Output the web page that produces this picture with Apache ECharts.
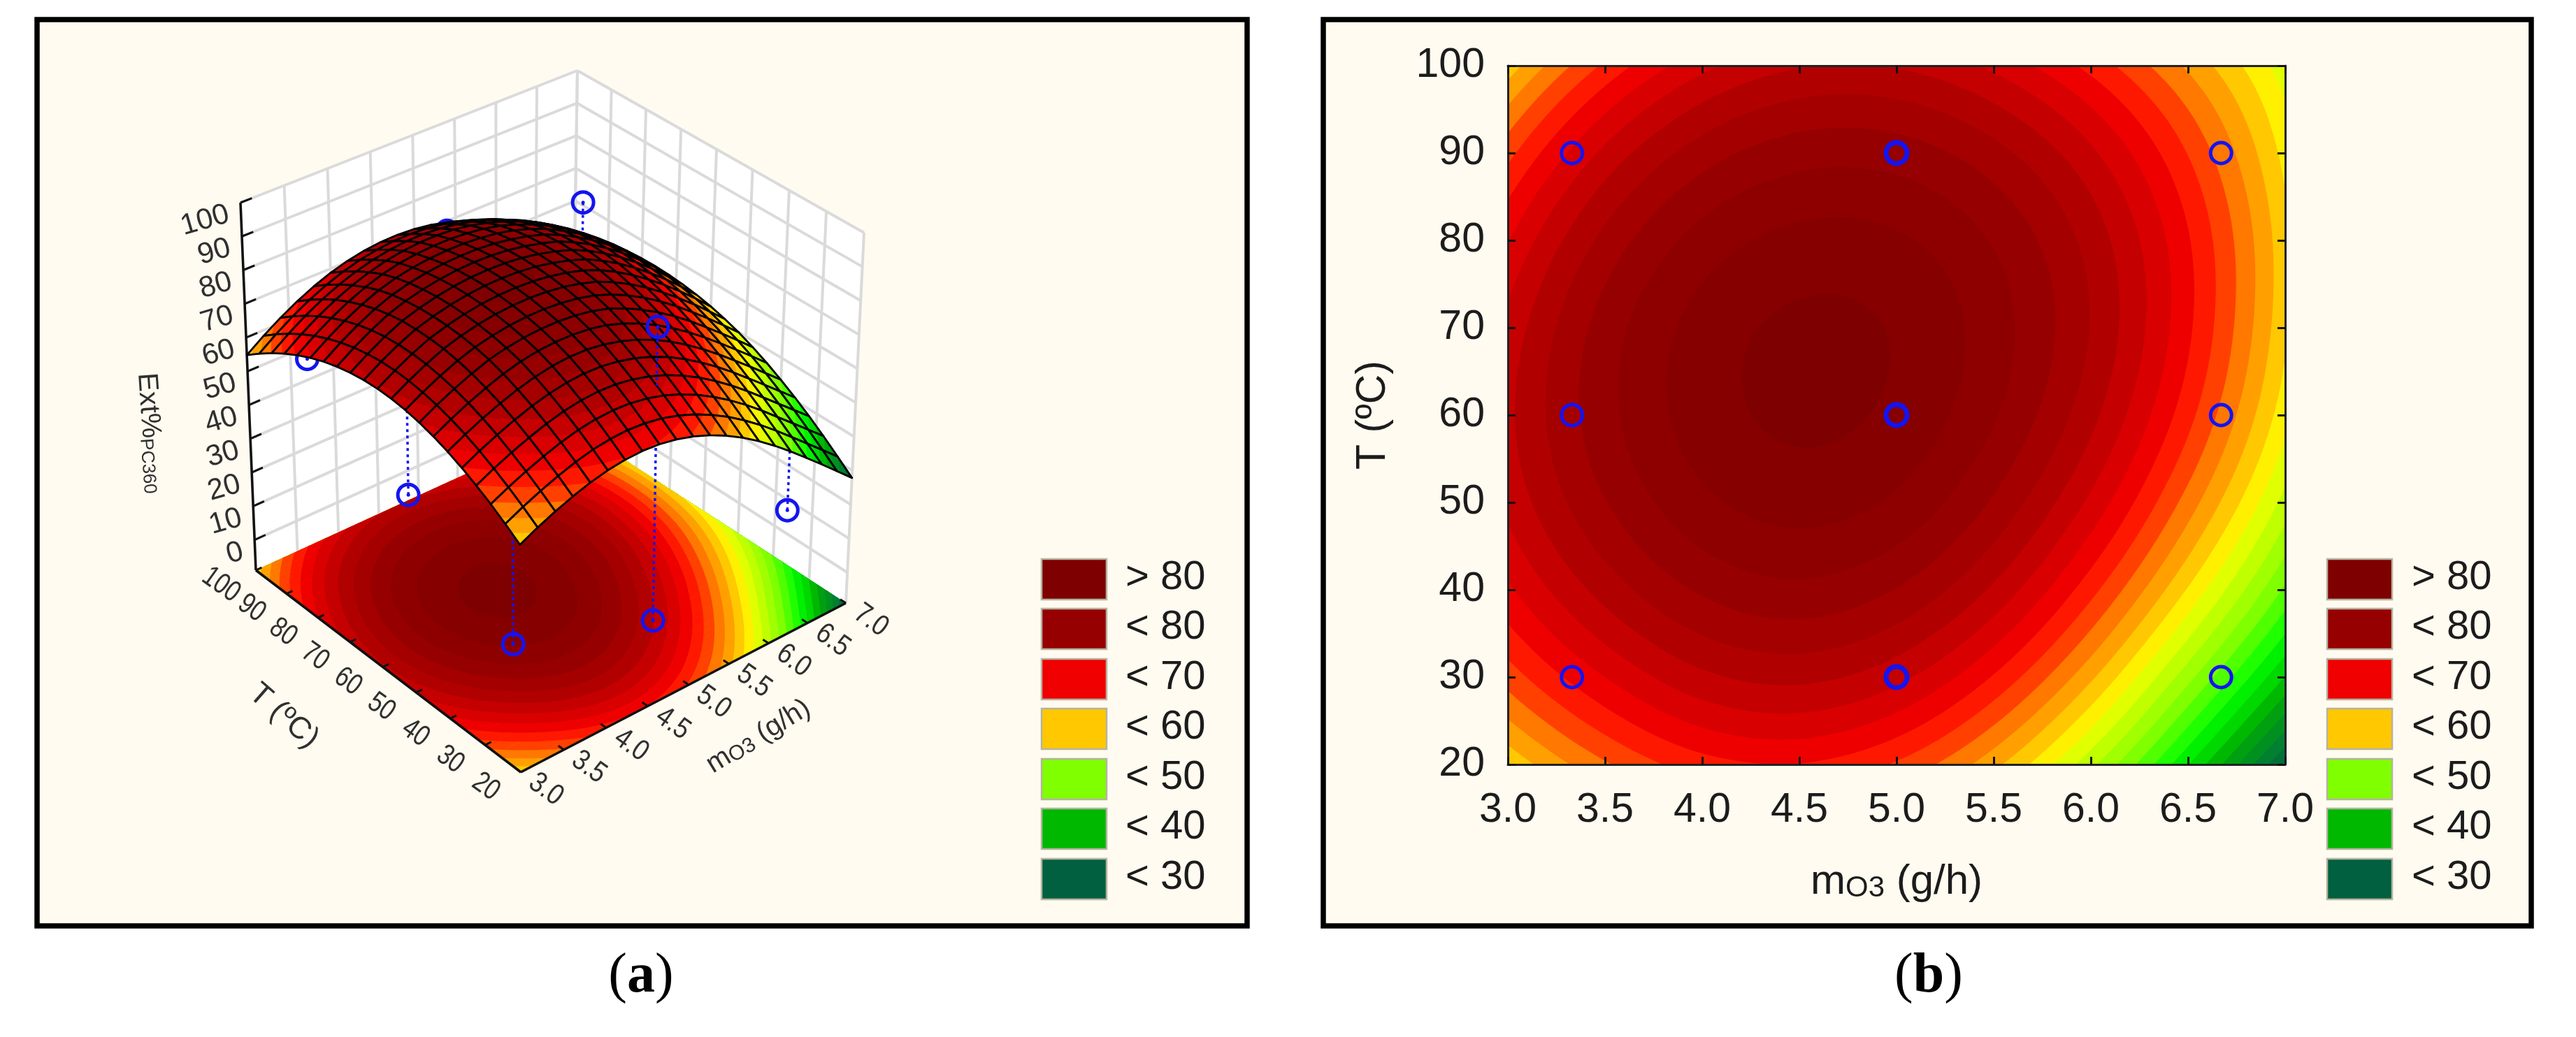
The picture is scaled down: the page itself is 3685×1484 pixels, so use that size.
<!DOCTYPE html>
<html>
<head>
<meta charset="utf-8">
<style>html,body{margin:0;padding:0;background:#fff}#c{width:3685px;height:1484px}</style>
<script src="https://cdn.jsdelivr.net/npm/echarts@6/dist/echarts.min.js"></script>
</head>
<body>
<div id="c"></div>
<script>
// ---------- data ----------
const mValues = [3, 3.5, 4, 4.5, 5, 5.5, 6, 6.5, 7];
const tValues = [20, 30, 40, 50, 60, 70, 80, 90, 100];
// Ext % fitted surface, one row per T value, one column per m value
const zT20  = [58.4, 63.7, 67.1, 67.9, 65.7, 60.6, 52.6, 42.1, 29.8];
const zT30  = [64.9, 70.0, 73.5, 74.5, 72.6, 67.8, 60.4, 50.7, 39.9];
const zT40  = [69.6, 74.8, 78.3, 79.5, 77.9, 73.6, 66.7, 57.8, 47.6];
const zT50  = [72.5, 77.9, 81.5, 82.8, 81.6, 77.7, 71.5, 63.1, 53.2];
const zT60  = [73.5, 79.3, 83.0, 84.4, 83.5, 80.2, 74.6, 66.7, 56.7];
const zT70  = [72.6, 78.9, 82.8, 84.4, 83.8, 80.9, 75.9, 68.4, 58.4];
const zT80  = [69.9, 76.6, 80.8, 82.6, 82.3, 79.8, 75.2, 68.2, 58.6];
const zT90  = [65.3, 72.5, 77.0, 79.1, 79.0, 76.7, 72.4, 65.9, 57.3];
const zT100 = [58.8, 66.4, 71.4, 73.8, 73.8, 71.5, 67.3, 61.6, 54.9];
const zRows = [zT20, zT30, zT40, zT50, zT60, zT70, zT80, zT90, zT100];
// observed points: m, T, Ext
const obsPoints = [
  [3.33, 30, 15.4], [5, 30, 2.3], [5, 30, 87.2], [6.67, 30, 15.2],
  [3.33, 60, 36.9], [5, 60, 60], [6.67, 60, 30.4],
  [3.33, 90, 56.6], [5, 90, 77.3], [6.67, 90, 68.9]
];
const designSingle = [[3.33, 30], [6.67, 30], [3.33, 60], [6.67, 60], [3.33, 90], [6.67, 90]];
const designRepeat = [[5, 30], [5, 60], [5, 90]];
const mTicks = [3, 3.5, 4, 4.5, 5, 5.5, 6, 6.5, 7];
const tTicks = [20, 30, 40, 50, 60, 70, 80, 90, 100];
const zTicks = [0, 10, 20, 30, 40, 50, 60, 70, 80, 90, 100];
const legendLabels = ['> 80', '< 80', '< 70', '< 60', '< 50', '< 40', '< 30'];
const legendColors = ['#7f0000', '#960000', '#f00000', '#ffc800', '#80ff00', '#00b800', '#006040'];
// contour bands: lower bound and fill
const bandFloors = [0, 30, 32, 34, 36, 38, 40, 42, 44, 46, 48, 50, 52, 54, 56, 58, 60, 62, 64, 66, 68, 70, 72, 74, 76, 78, 80, 82, 84];
const bandFills = ['#006040', '#007038', '#008030', '#009020', '#00a010', '#00b800', '#00d800', '#00f000', '#20ff00', '#50ff00', '#80ff00', '#a0ff00', '#c0ff00', '#e0ff00', '#fff000', '#ffc800', '#ffa000', '#ff7800', '#ff4000', '#ff1800', '#ee0000', '#d80000', '#c40000', '#b00000', '#a40000', '#960000', '#8e0000', '#860000', '#7f0000'];

// ---------- layout of the 3-D box ----------
const FONT = '"Liberation Sans", Arial, sans-serif';
const floorQuad = {F: [745, 1105], R: [1210, 863], B: [818, 609], L: [366, 816]};
const roofQuad  = {F: [743, 545],  R: [1236, 333], B: [826, 101], L: [344, 290]};
const zFloor = -9, zRoof = 100;

function quadMap(q) {
  const d1x = q.R[0] - q.B[0], d1y = q.R[1] - q.B[1], d2x = q.L[0] - q.B[0], d2y = q.L[1] - q.B[1];
  const sx = q.F[0] - q.R[0] + q.B[0] - q.L[0], sy = q.F[1] - q.R[1] + q.B[1] - q.L[1];
  const det = d1x * d2y - d2x * d1y;
  const g = (sx * d2y - d2x * sy) / det, h = (d1x * sy - sx * d1y) / det;
  const ax = q.R[0] - q.F[0] + g * q.R[0], ay = q.R[1] - q.F[1] + g * q.R[1];
  const bx = q.L[0] - q.F[0] + h * q.L[0], by = q.L[1] - q.F[1] + h * q.L[1];
  return function (s, t) {
    const w = 1 + g * s + h * t;
    return [(q.F[0] + ax * s + bx * t) / w, (q.F[1] + ay * s + by * t) / w];
  };
}
const floorMap = quadMap(floorQuad), roofMap = quadMap(roofQuad);
function project(m, T, z) {
  const s = (m - 3) / 4, t = (T - 20) / 80;
  const a = floorMap(s, t), b = roofMap(s, t), f = (z - zFloor) / (zRoof - zFloor);
  return [a[0] + (b[0] - a[0]) * f, a[1] + (b[1] - a[1]) * f];
}
// drawn height of the mesh: the 3-D view sits a little under the colour scale
function meshHeight(z) {
  return z - (z >= 80 ? 0.9 : 0.9 - 0.00433 * (z - 80) * (z - 24.9));
}

// ---------- smooth reading of the surface table ----------
const nm = mValues.length, nt = tValues.length;
function cell(j, i) {
  if (j < 0) return 3 * cell(0, i) - 3 * cell(1, i) + cell(2, i);
  if (j >= nt) return 3 * cell(nt - 1, i) - 3 * cell(nt - 2, i) + cell(nt - 3, i);
  if (i < 0) return 3 * zRows[j][0] - 3 * zRows[j][1] + zRows[j][2];
  if (i >= nm) return 3 * zRows[j][nm - 1] - 3 * zRows[j][nm - 2] + zRows[j][nm - 3];
  return zRows[j][i];
}
function cr(a, b, c, d, u) {
  return 0.5 * (2 * b + (c - a) * u + (2 * a - 5 * b + 4 * c - d) * u * u + (3 * b - a - 3 * c + d) * u * u * u);
}
function surf(m, T) {
  const U = (m - mValues[0]) / (mValues[1] - mValues[0]), V = (T - tValues[0]) / (tValues[1] - tValues[0]);
  const i = Math.min(Math.floor(U), nm - 2), j = Math.min(Math.floor(V), nt - 2);
  const u = U - i, v = V - j, r = [];
  for (let k = -1; k <= 2; k++) r.push(cr(cell(j + k, i - 1), cell(j + k, i), cell(j + k, i + 1), cell(j + k, i + 2), u));
  return cr(r[0], r[1], r[2], r[3], v);
}

// ---------- band geometry ----------
function bandIndex(z) {
  let k = 0;
  while (k + 1 < bandFloors.length && z >= bandFloors[k + 1]) k++;
  return k;
}
function clipAbove(poly, level) { // poly of [a, b, z]
  const out = [];
  for (let n = 0; n < poly.length; n++) {
    const p = poly[n], q = poly[(n + 1) % poly.length];
    if (p[2] >= level) out.push(p);
    if ((p[2] >= level) !== (q[2] >= level)) {
      const f = (level - p[2]) / (q[2] - p[2]);
      out.push([p[0] + (q[0] - p[0]) * f, p[1] + (q[1] - p[1]) * f, level]);
    }
  }
  return out;
}
function bandElements(mapFn, n) {
  const Z = [];
  for (let j = 0; j <= n; j++) {
    Z.push([]);
    for (let i = 0; i <= n; i++) Z[j].push(surf(3 + 4 * i / n, 20 + 80 * j / n));
  }
  const xy = (i, j) => { const p = mapFn(3 + 4 * i / n, 20 + 80 * j / n); return p[0].toFixed(1) + ' ' + p[1].toFixed(1); };
  const els = [];
  bandFloors.forEach((level, k) => {
    const parts = [];
    for (let j = 0; j < n; j++) {
      let run = -1;
      const flush = (end) => {
        if (run >= 0) parts.push('M' + xy(run, j) + 'L' + xy(end, j) + 'L' + xy(end, j + 1) + 'L' + xy(run, j + 1) + 'Z');
        run = -1;
      };
      for (let i = 0; i < n; i++) {
        const a = Z[j][i], b = Z[j][i + 1], c = Z[j + 1][i + 1], d = Z[j + 1][i];
        if (a >= level && b >= level && c >= level && d >= level) {
          if (run < 0) run = i;
        } else {
          flush(i);
          if (a >= level || b >= level || c >= level || d >= level) {
            const poly = clipAbove([[i, j, a], [i + 1, j, b], [i + 1, j + 1, c], [i, j + 1, d]], level);
            if (poly.length > 2) parts.push('M' + poly.map(p => xy(p[0], p[1])).join('L') + 'Z');
          }
        }
      }
      flush(n);
    }
    if (parts.length) els.push({type: 'path', shape: {pathData: parts.join('')}, style: {fill: bandFills[k]}});
  });
  return els;
}

// ---------- 3-D parts ----------
const GRID3D = '#dadada', AXIS3D = '#111', LABEL3D = '#303030', RING = '#1414f0';
function seg(api, a, b, stroke, width, dash) {
  const p = api.coord(a), q = api.coord(b);
  const st = {stroke: stroke, lineWidth: width};
  if (dash) st.lineDash = dash;
  return {type: 'line', shape: {x1: p[0], y1: p[1], x2: q[0], y2: q[1]}, style: st};
}
function label3d(api, pos, text, size, rot, align, squeeze) {
  const p = api.coord(pos);
  return {type: 'text', x: p[0], y: p[1], rotation: rot, scaleX: squeeze || 1, style: {
    text: String(text), fontSize: size, fontFamily: FONT, fill: LABEL3D, align: align || 'center', verticalAlign: 'middle'}};
}
function renderBox(params, api) {
  const c = [];
  const wall = (pts) => ({type: 'polygon', shape: {points: pts.map(p => api.coord(p))}, style: {fill: '#ffffff'}});
  c.push(wall([project(3, 100, zFloor), project(7, 100, zFloor), project(7, 100, zRoof), project(3, 100, zRoof)]));
  c.push(wall([project(7, 20, zFloor), project(7, 100, zFloor), project(7, 100, zRoof), project(7, 20, zRoof)]));
  mTicks.forEach(m => c.push(seg(api, project(m, 100, zFloor), project(m, 100, zRoof), GRID3D, 4)));
  tTicks.forEach(T => c.push(seg(api, project(7, T, zFloor), project(7, T, zRoof), GRID3D, 4)));
  zTicks.forEach(z => {
    c.push(seg(api, project(3, 100, z), project(7, 100, z), GRID3D, 4));
    c.push(seg(api, project(7, 100, z), project(7, 20, z), GRID3D, 4));
  });
  bandElements((m, T) => api.coord(project(m, T, zFloor)), 200).forEach(e => c.push(e));
  return {type: 'group', children: c};
}
function renderFrame(params, api) {
  const c = [];
  c.push(seg(api, project(3, 20, zFloor), project(3, 100, zFloor), AXIS3D, 3.5));
  c.push(seg(api, project(3, 20, zFloor), project(7, 20, zFloor), AXIS3D, 3.5));
  c.push(seg(api, project(3, 100, zFloor), project(3, 100, zRoof), AXIS3D, 3.5));
  tTicks.forEach(T => {
    c.push(seg(api, project(3, T, zFloor), project(3.07, T, zFloor), AXIS3D, 3));
    const p = project(3, T, zFloor);
    c.push(label3d(api, [p[0] - 50, p[1] + 21], T, 42, -0.62, 'center', 0.8));
  });
  mTicks.forEach(m => {
    c.push(seg(api, project(m, 20, zFloor), project(m, 21.5, zFloor), AXIS3D, 3));
    const p = project(m, 20, zFloor);
    c.push(label3d(api, [p[0] + 36, p[1] + 25], m.toFixed(1), 42, -0.62, 'center', 0.85));
  });
  zTicks.forEach(z => {
    c.push(seg(api, project(3, 100, z), project(3.13, 100, z), AXIS3D, 3));
    const p = project(3, 100, z);
    c.push(label3d(api, [p[0] - 17, p[1] + 16], z, 42, 0.28, 'right'));
  });
  const a = api.coord([406, 1025]);
  c.push({type: 'text', x: a[0], y: a[1], rotation: -0.72, style: {text: 'T (ºC)', fontSize: 44, fontFamily: FONT, fill: LABEL3D, align: 'center', verticalAlign: 'middle'}});
  const b = api.coord([1085, 1054]);
  c.push({type: 'text', x: b[0], y: b[1], rotation: 0.55, style: {text: '{a|m}{b|O3}{a| (g/h)}', align: 'center', verticalAlign: 'middle', rich: {
    a: {fontSize: 40, fontFamily: FONT, fill: LABEL3D}, b: {fontSize: 30, fontFamily: FONT, fill: LABEL3D, verticalAlign: 'bottom'}}}});
  const d = api.coord([215, 620]);
  c.push({type: 'text', x: d[0], y: d[1], rotation: -1.5, style: {text: '{a|Ext%}{b|PC360}', align: 'center', verticalAlign: 'middle', rich: {
    a: {fontSize: 40, fontFamily: FONT, fill: LABEL3D}, b: {fontSize: 26, fontFamily: FONT, fill: LABEL3D, verticalAlign: 'bottom'}}}});
  return {type: 'group', children: c};
}
const meshN = 20;
const meshCells = [];
for (let j = 0; j < meshN; j++) for (let i = 0; i < meshN; i++) meshCells.push([i, j]);
meshCells.sort((a, b) => (b[0] + b[1]) - (a[0] + a[1]));
function renderMeshCell(params, api) {
  const i = api.value(0), j = api.value(1);
  const v = (a, b) => {
    const m = 3 + 4 * a / meshN, T = 20 + 80 * b / meshN, z = surf(m, T), p = api.coord(project(m, T, meshHeight(z)));
    return [p[0], p[1], z];
  };
  const quad = [v(i, j), v(i + 1, j), v(i + 1, j + 1), v(i, j + 1)];
  const zs = quad.map(q => q[2]);
  const lo = bandIndex(Math.min.apply(null, zs)), hi = bandIndex(Math.max.apply(null, zs));
  const c = [];
  const pts = quad.map(q => [q[0], q[1]]);
  c.push({type: 'polygon', shape: {points: pts}, style: {fill: bandFills[lo]}});
  for (let k = lo + 1; k <= hi; k++) {
    const poly = clipAbove(quad, bandFloors[k]);
    if (poly.length > 2) c.push({type: 'polygon', shape: {points: poly.map(q => [q[0], q[1]])}, style: {fill: bandFills[k]}});
  }
  c.push({type: 'polygon', shape: {points: pts}, style: {fill: 'none', stroke: '#000', lineWidth: 2.8, lineJoin: 'round'}});
  return {type: 'group', children: c};
}
function renderPoint(params, api) {
  const m = api.value(0), T = api.value(1), z = api.value(2);
  const p = api.coord(project(m, T, z)), q = api.coord(project(m, T, meshHeight(surf(m, T))));
  return {type: 'group', children: [
    {type: 'line', shape: {x1: p[0], y1: p[1], x2: q[0], y2: q[1]}, style: {stroke: RING, lineWidth: 3.5, lineDash: [4, 5]}},
    {type: 'circle', shape: {cx: p[0], cy: p[1], r: 15}, style: {fill: 'none', stroke: RING, lineWidth: 5}},
    {type: 'circle', shape: {cx: p[0], cy: p[1], r: 2.5}, style: {fill: RING}}
  ]};
}
const pointsBelow = obsPoints.filter(p => p[2] <= surf(p[0], p[1]));
const pointsAbove = obsPoints.filter(p => p[2] > surf(p[0], p[1]));

// ---------- page furniture ----------
function legendGraphics(xSwatch, xText) {
  const out = [];
  const tops = [800, 871, 943, 1014, 1086, 1157, 1229];
  legendLabels.forEach((lab, n) => {
    out.push({type: 'rect', z: 1, shape: {x: xSwatch, y: tops[n], width: 93, height: 58}, style: {fill: legendColors[n], stroke: '#b5b3a0', lineWidth: 2.5}});
    out.push({type: 'text', z: 1, x: xText, y: tops[n] + 27, style: {text: lab, fontSize: 58, fontFamily: FONT, fill: '#1c1c1c', align: 'left', verticalAlign: 'middle'}});
  });
  return out;
}
function caption(cx, letter) {
  return {type: 'text', z: 1, x: cx, y: 1398, style: {text: '{n|(}{b|' + letter + '}{n|)}', align: 'center', verticalAlign: 'middle', rich: {
    n: {fontSize: 80, fontFamily: '"Liberation Serif", serif', fill: '#000'},
    b: {fontSize: 80, fontWeight: 'bold', fontFamily: '"Liberation Serif", serif', fill: '#000'}}}};
}
function panel(x, w) {
  return {type: 'rect', z: 0, shape: {x: x, y: 28, width: w, height: 1297}, style: {fill: '#fffbf0', stroke: '#000', lineWidth: 7.5}};
}
const axisStyle = {lineStyle: {color: '#222', width: 3}};
const tickStyle = {show: true, inside: true, length: 11, lineStyle: {color: '#111', width: 3}};
const labelFont = {fontSize: 59, fontFamily: FONT, color: '#1c1c1c'};

const chart = echarts.init(document.getElementById('c'), null, {renderer: 'canvas', width: 3685, height: 1484});
chart.setOption({
  animation: false,
  backgroundColor: '#ffffff',
  tooltip: {show: false},
  graphic: {elements: [
    panel(53, 1731), panel(1893, 1728),
    ...legendGraphics(1490, 1610), ...legendGraphics(3329, 3450),
    caption(917, 'a'), caption(2759, 'b')
  ]},
  grid: [
    {left: 2157, top: 94, width: 1112, height: 1000, containLabel: false},
    {left: 0, top: 0, width: 3685, height: 1484, containLabel: false}
  ],
  xAxis: [
    {type: 'value', gridIndex: 0, min: 3, max: 7, interval: 0.5, position: 'bottom', z: 10,
     axisLine: axisStyle, axisTick: tickStyle, splitLine: {show: false},
     axisLabel: Object.assign({margin: 36, formatter: v => v.toFixed(1)}, labelFont),
     name: '{a|m}{b|O3}{a| (g/h)}', nameLocation: 'middle', nameGap: 138,
     nameTextStyle: {rich: {a: {fontSize: 60, fontFamily: FONT, color: '#1c1c1c'}, b: {fontSize: 42, fontFamily: FONT, color: '#1c1c1c', verticalAlign: 'bottom'}}}},
    {type: 'value', gridIndex: 0, min: 3, max: 7, interval: 0.5, position: 'top', z: 10,
     axisLine: axisStyle, axisTick: tickStyle, splitLine: {show: false}, axisLabel: {show: false}},
    {type: 'value', gridIndex: 1, min: 0, max: 3685, show: false}
  ],
  yAxis: [
    {type: 'value', gridIndex: 0, min: 20, max: 100, interval: 10, position: 'left', z: 10,
     axisLine: axisStyle, axisTick: tickStyle, splitLine: {show: false},
     axisLabel: Object.assign({margin: 33}, labelFont),
     name: 'T (ºC)', nameLocation: 'middle', nameGap: 163, nameRotate: 90,
     nameTextStyle: {fontSize: 59, fontFamily: FONT, color: '#1c1c1c'}},
    {type: 'value', gridIndex: 0, min: 20, max: 100, interval: 10, position: 'right', z: 10,
     axisLine: axisStyle, axisTick: tickStyle, splitLine: {show: false}, axisLabel: {show: false}},
    {type: 'value', gridIndex: 1, min: 0, max: 1484, inverse: true, show: false}
  ],
  series: [
    {type: 'custom', name: 'contour', xAxisIndex: 0, yAxisIndex: 0, z: 2, silent: true, clip: false, data: [[5, 60]],
     renderItem: (params, api) => ({type: 'group', children: bandElements((m, T) => api.coord([m, T]), 240)})},
    {type: 'scatter', name: 'design', xAxisIndex: 0, yAxisIndex: 0, z: 4, silent: true, symbol: 'circle', symbolSize: 30,
     itemStyle: {color: 'transparent', borderColor: RING, borderWidth: 5, opacity: 1}, data: designSingle},
    {type: 'scatter', name: 'design repeated', xAxisIndex: 0, yAxisIndex: 0, z: 4, silent: true, symbol: 'circle', symbolSize: 30,
     itemStyle: {color: 'transparent', borderColor: RING, borderWidth: 7, opacity: 1}, data: designRepeat},
    {type: 'custom', name: 'box', xAxisIndex: 2, yAxisIndex: 2, z: 2, silent: true, clip: false, data: [[0, 0]], renderItem: renderBox},
    {type: 'custom', name: 'frame', xAxisIndex: 2, yAxisIndex: 2, z: 3, silent: true, clip: false, data: [[0, 0]], renderItem: renderFrame},
    {type: 'custom', name: 'points below', xAxisIndex: 2, yAxisIndex: 2, z: 4, silent: true, clip: false, data: pointsBelow,
     dimensions: ['m', 'T', 'z'], encode: {x: 0, y: 1}, renderItem: renderPoint},
    {type: 'custom', name: 'surface', xAxisIndex: 2, yAxisIndex: 2, z: 5, silent: true, clip: false, data: meshCells,
     encode: {x: 0, y: 1}, renderItem: renderMeshCell},
    {type: 'custom', name: 'points above', xAxisIndex: 2, yAxisIndex: 2, z: 6, silent: true, clip: false, data: pointsAbove,
     dimensions: ['m', 'T', 'z'], encode: {x: 0, y: 1}, renderItem: renderPoint}
  ]
});
</script>
</body>
</html>
